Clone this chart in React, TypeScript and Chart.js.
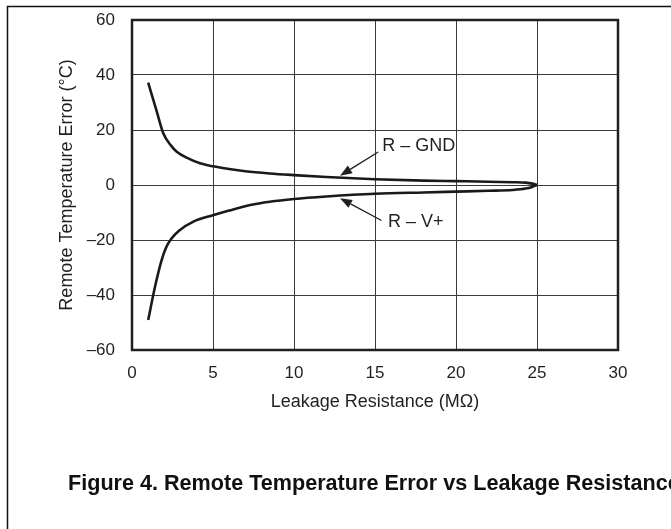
import React, { useEffect, useRef } from "react";
import { Chart, registerables } from "chart.js";

Chart.register(...registerables);

// R – GND curve (MΩ, °C)
const gndX = [1, 1.5, 1.93, 2.4, 2.76, 3.5, 4.2, 5, 6, 7, 8.5, 10, 12, 15, 18, 20, 22, 23.5, 24.3, 24.7, 25];
const gndY = [37.2, 27.3, 18.8, 14.4, 12.1, 9.6, 7.9, 6.8, 5.8, 5.0, 4.2, 3.6, 2.9, 2.1, 1.6, 1.4, 1.2, 1.0, 0.85, 0.5, 0];

// R – V+ curve
const vpX = [1, 1.42, 1.83, 2.1, 2.45, 2.9, 3.79, 5, 6, 7.3, 8.5, 10, 12, 15, 18, 20, 22, 23.5, 24.3, 24.7, 25];
const vpY = [-49.1, -37, -27.3, -22.8, -19.4, -16.6, -13.3, -11, -9.3, -7.3, -6.1, -5.1, -4.2, -3.2, -2.7, -2.4, -2.1, -1.8, -1.3, -0.7, 0];

const seriesLabels = ["R \u2013 GND", "R \u2013 V+"];

const xTicks = [0, 5, 10, 15, 20, 25, 30];
const yTicks = [-60, -40, -20, 0, 20, 40, 60];

const xTitle = "Leakage Resistance (M\u03A9)";
const yTitle = "Remote Temperature Error (\u00B0C)";
const caption = "Figure 4. Remote Temperature Error vs Leakage Resistance";

// annotation arrows in data coordinates: [tailX, tailY, tipX, tipY, labelX, labelY]
const gndArrow = [15.2, 12, 12.84, 3.4, 15.45, 14.2];
const vpArrow = [15.4, -12.9, 12.84, -4.8, 15.8, -13.4];

const INK = "#231f20";
const FONT = '"Liberation Sans", Arial, Helvetica, sans-serif';

function drawArrow(ctx: CanvasRenderingContext2D, x1: number, y1: number, x2: number, y2: number) {
  const ang = Math.atan2(y2 - y1, x2 - x1);
  const len = 12;
  const hw = 4.5;
  const bx = x2 - len * Math.cos(ang);
  const by = y2 - len * Math.sin(ang);
  ctx.beginPath();
  ctx.moveTo(x1, y1);
  ctx.lineTo(bx, by);
  ctx.stroke();
  ctx.beginPath();
  ctx.moveTo(x2, y2);
  ctx.lineTo(bx + hw * Math.sin(ang), by - hw * Math.cos(ang));
  ctx.lineTo(bx - hw * Math.sin(ang), by + hw * Math.cos(ang));
  ctx.closePath();
  ctx.fill();
}

const overlay = {
  id: "overlay",
  afterDatasetsDraw(chart: any) {
    const { ctx, chartArea: a, scales } = chart;
    const x = scales.x;
    const y = scales.y;
    ctx.save();
    ctx.strokeStyle = INK;
    ctx.lineWidth = 2.5;
    ctx.strokeRect(a.left, a.top, a.right - a.left, a.bottom - a.top);

    ctx.fillStyle = INK;
    ctx.lineWidth = 1.3;
    ctx.font = `18px ${FONT}`;
    ctx.textBaseline = "middle";
    ctx.textAlign = "left";
    const arrows = [gndArrow, vpArrow];
    arrows.forEach((ar, i) => {
      drawArrow(
        ctx,
        x.getPixelForValue(ar[0]),
        y.getPixelForValue(ar[1]),
        x.getPixelForValue(ar[2]),
        y.getPixelForValue(ar[3])
      );
      ctx.fillText(seriesLabels[i], x.getPixelForValue(ar[4]), y.getPixelForValue(ar[5]));
    });
    ctx.restore();
  },
  afterDraw(chart: any) {
    const { ctx } = chart;
    ctx.save();
    ctx.strokeStyle = "#111";
    ctx.lineWidth = 1.5;
    ctx.beginPath();
    ctx.moveTo(7.5, 529);
    ctx.lineTo(7.5, 6.5);
    ctx.lineTo(671, 6.5);
    ctx.stroke();
    ctx.fillStyle = "#111";
    ctx.font = `bold 21.6px ${FONT}`;
    ctx.textBaseline = "middle";
    ctx.textAlign = "left";
    ctx.fillText(caption, 68, 484);
    ctx.restore();
  },
};

export default function App() {
  const ref = useRef<HTMLCanvasElement | null>(null);
  useEffect(() => {
    if (!ref.current) return;
    const chart = new Chart(ref.current, {
      type: "line",
      data: {
        datasets: [
          {
            label: seriesLabels[0],
            data: gndX.map((v, i) => ({ x: v, y: gndY[i] })),
            borderColor: "#1a1a1a",
            borderWidth: 2.6,
            pointRadius: 0,
            cubicInterpolationMode: "monotone",
            fill: false,
          },
          {
            label: seriesLabels[1],
            data: vpX.map((v, i) => ({ x: v, y: vpY[i] })),
            borderColor: "#1a1a1a",
            borderWidth: 2.6,
            pointRadius: 0,
            cubicInterpolationMode: "monotone",
            fill: false,
          },
        ],
      },
      options: {
        responsive: false,
        animation: false,
        layout: { padding: { left: 0, right: 53, top: 20, bottom: 99 } },
        plugins: { legend: { display: false }, tooltip: { enabled: false }, title: { display: false } },
        scales: {
          x: {
            type: "linear",
            min: 0,
            max: 30,
            afterBuildTicks: (s: any) => {
              s.ticks = xTicks.map((v) => ({ value: v }));
            },
            afterFit: (s: any) => {
              s.height = 80;
              s.paddingLeft = 0;
              s.paddingRight = 0;
              s.paddingTop = 0;
              s.paddingBottom = 0;
            },
            border: { display: false },
            grid: { color: "#3a3a3a", lineWidth: 1, drawTicks: false },
            ticks: { padding: 13, color: INK, font: { family: FONT, size: 17 }, maxRotation: 0 },
            title: {
              display: true,
              text: xTitle,
              color: INK,
              font: { family: FONT, size: 18 },
              padding: { top: 0, bottom: 17 },
            },
          },
          y: {
            type: "linear",
            min: -60,
            max: 60,
            afterBuildTicks: (s: any) => {
              s.ticks = yTicks.map((v) => ({ value: v }));
            },
            afterFit: (s: any) => {
              s.width = 132;
              s.paddingLeft = 0;
              s.paddingRight = 0;
              s.paddingTop = 0;
              s.paddingBottom = 0;
            },
            border: { display: false },
            grid: { color: "#3a3a3a", lineWidth: 1, drawTicks: false },
            ticks: {
              padding: 17,
              color: INK,
              font: { family: FONT, size: 17 },
              callback: (v: any) => String(v).replace("-", "\u2013"),
            },
            title: {
              display: true,
              text: yTitle,
              color: INK,
              font: { family: FONT, size: 18 },
              padding: { top: 56, bottom: 0 },
            },
          },
        },
      },
      plugins: [overlay],
    });
    return () => chart.destroy();
  }, []);
  return (
    <div style={{ position: "fixed", left: 0, top: 0, width: 671, height: 529, background: "#fff" }}>
      <canvas ref={ref} width={671} height={529} style={{ display: "block" }} />
    </div>
  );
}
